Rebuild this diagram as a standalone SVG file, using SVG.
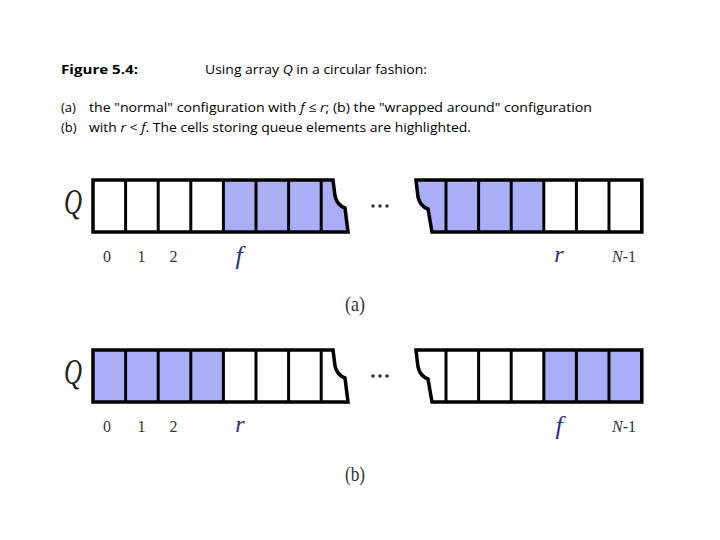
<svg xmlns="http://www.w3.org/2000/svg" width="720" height="540" viewBox="0 0 720 540">
<style>
.cap{font-family:"Open Sans","Liberation Sans",sans-serif;font-size:13px;fill:#000}
.b{font-weight:bold}
.it{font-style:italic}
.hl{fill:#aaaef6}
.wh{fill:#fff}
.div{stroke:#000;stroke-width:3}
.out{fill:none;stroke:#000;stroke-width:3.5;stroke-linejoin:miter}
.idx{font-family:"Liberation Serif",serif;font-size:16px;fill:#333}
.var{font-family:"Liberation Serif",serif;font-style:italic;fill:#2a2e8e}
.q{font-family:"Liberation Serif",serif;font-style:italic;font-size:36px;fill:#222}
.sub{font-family:"Liberation Serif",serif;font-size:22px;fill:#333}
.dot{fill:#333}
</style>
<g id="caption">
<text class="cap b" x="61" y="74" textLength="77" lengthAdjust="spacingAndGlyphs">Figure 5.4:</text>
<text class="cap" x="205" y="74" textLength="222" lengthAdjust="spacingAndGlyphs">Using array <tspan class="it">Q</tspan> in a circular fashion:</text>
<text class="cap" x="61" y="112">(a)</text>
<text class="cap" x="89" y="112" textLength="503" lengthAdjust="spacingAndGlyphs">the "normal" configuration with <tspan class="it">f</tspan> ≤ <tspan class="it">r</tspan>; (b) the "wrapped around" configuration</text>
<text class="cap" x="61" y="132">(b)</text>
<text class="cap" x="89" y="132" textLength="382" lengthAdjust="spacingAndGlyphs">with <tspan class="it">r</tspan> &lt; <tspan class="it">f</tspan>. The cells storing queue elements are highlighted.</text>
</g>
<g id="array-a">
<text class="q" x="64" y="214" textLength="18" lengthAdjust="spacingAndGlyphs">Q</text>
<rect class="wh" x="93" y="180" width="130.4" height="52"/>
<path class="hl" d="M223.4,180 H333 L335,196 Q337,205 345,208 L348,232 H223.4 Z"/>
<path class="hl" d="M416,180 H544 V232 H432 L428,209 Q420,206 418,197 Z"/>
<rect class="wh" x="544" y="180" width="97.8" height="52"/>
<g class="div">
<line x1="125.6" y1="180" x2="125.6" y2="232"/>
<line x1="158.2" y1="180" x2="158.2" y2="232"/>
<line x1="190.8" y1="180" x2="190.8" y2="232"/>
<line x1="223.4" y1="180" x2="223.4" y2="232"/>
<line x1="256" y1="180" x2="256" y2="232"/>
<line x1="288.6" y1="180" x2="288.6" y2="232"/>
<line x1="321.2" y1="180" x2="321.2" y2="232"/>
<line x1="446" y1="180" x2="446" y2="232"/>
<line x1="478.6" y1="180" x2="478.6" y2="232"/>
<line x1="511.2" y1="180" x2="511.2" y2="232"/>
<line x1="543.8" y1="180" x2="543.8" y2="232"/>
<line x1="576.4" y1="180" x2="576.4" y2="232"/>
<line x1="609" y1="180" x2="609" y2="232"/>
</g>
<path class="out" d="M333,180 H93 V232 H348 L345,208 Q337,205 335,196 Z"/>
<path class="out" d="M416,180 H641.8 V232 H432 L428,209 Q420,206 418,197 Z"/>
<circle class="dot" cx="373" cy="206" r="1.8"/>
<circle class="dot" cx="380" cy="206" r="1.8"/>
<circle class="dot" cx="387" cy="206" r="1.8"/>
<text class="idx" x="107" y="262" text-anchor="middle">0</text>
<text class="idx" x="141.5" y="262" text-anchor="middle">1</text>
<text class="idx" x="173.5" y="262" text-anchor="middle">2</text>
<text class="var" x="239" y="264" font-size="26" text-anchor="middle">f</text>
<text class="var" x="559" y="262" font-size="24" text-anchor="middle">r</text>
<text class="idx" x="624" y="262" text-anchor="middle" font-size="15"><tspan font-style="italic">N</tspan>-1</text>
<text class="sub" x="355" y="311" text-anchor="middle" textLength="20" lengthAdjust="spacingAndGlyphs">(a)</text>
</g>
<g id="array-b">
<text class="q" x="64" y="384" textLength="18" lengthAdjust="spacingAndGlyphs">Q</text>
<rect class="hl" x="93" y="350" width="130.4" height="52"/>
<path class="wh" d="M223.4,350 H333 L335,366 Q337,375 345,378 L348,402 H223.4 Z"/>
<path class="wh" d="M416,350 H544 V402 H432 L428,379 Q420,376 418,367 Z"/>
<rect class="hl" x="544" y="350" width="97.8" height="52"/>
<g class="div">
<line x1="125.6" y1="350" x2="125.6" y2="402"/>
<line x1="158.2" y1="350" x2="158.2" y2="402"/>
<line x1="190.8" y1="350" x2="190.8" y2="402"/>
<line x1="223.4" y1="350" x2="223.4" y2="402"/>
<line x1="256" y1="350" x2="256" y2="402"/>
<line x1="288.6" y1="350" x2="288.6" y2="402"/>
<line x1="321.2" y1="350" x2="321.2" y2="402"/>
<line x1="446" y1="350" x2="446" y2="402"/>
<line x1="478.6" y1="350" x2="478.6" y2="402"/>
<line x1="511.2" y1="350" x2="511.2" y2="402"/>
<line x1="543.8" y1="350" x2="543.8" y2="402"/>
<line x1="576.4" y1="350" x2="576.4" y2="402"/>
<line x1="609" y1="350" x2="609" y2="402"/>
</g>
<path class="out" d="M333,350 H93 V402 H348 L345,378 Q337,375 335,366 Z"/>
<path class="out" d="M416,350 H641.8 V402 H432 L428,379 Q420,376 418,367 Z"/>
<circle class="dot" cx="373" cy="376" r="1.8"/>
<circle class="dot" cx="380" cy="376" r="1.8"/>
<circle class="dot" cx="387" cy="376" r="1.8"/>
<text class="idx" x="107" y="432" text-anchor="middle">0</text>
<text class="idx" x="141.5" y="432" text-anchor="middle">1</text>
<text class="idx" x="173.5" y="432" text-anchor="middle">2</text>
<text class="var" x="240" y="432" font-size="24" text-anchor="middle">r</text>
<text class="var" x="559" y="434" font-size="26" text-anchor="middle">f</text>
<text class="idx" x="624" y="432" text-anchor="middle" font-size="15"><tspan font-style="italic">N</tspan>-1</text>
<text class="sub" x="355" y="481" text-anchor="middle" textLength="20" lengthAdjust="spacingAndGlyphs">(b)</text>
</g>
</svg>
